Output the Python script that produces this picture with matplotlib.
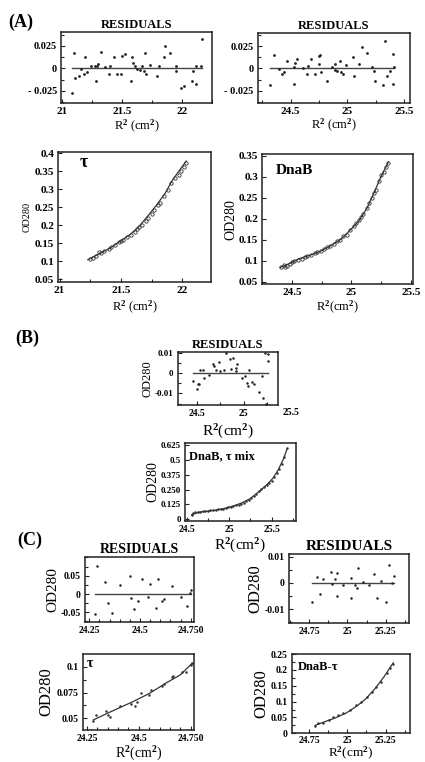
import matplotlib
matplotlib.use("Agg")
import matplotlib.pyplot as plt
import numpy as np
from matplotlib.ticker import MultipleLocator

plt.rcParams['font.family'] = ['Liberation Serif', 'DejaVu Serif']
plt.rcParams['font.weight'] = 'bold'
plt.rcParams['mathtext.fontset'] = 'custom'
plt.rcParams['mathtext.rm'] = 'Liberation Serif:bold'
plt.rcParams['mathtext.it'] = 'Liberation Serif:bold'
plt.rcParams['mathtext.bf'] = 'Liberation Serif:bold'

# ---------------- DATA ----------------
# (A) tau residuals
a_tau_res_x = [21.08, 21.10, 21.11, 21.14, 21.16, 21.18, 21.19, 21.21, 21.24, 21.27, 21.28, 21.29,
               21.30, 21.32, 21.36, 21.39, 21.40, 21.43, 21.46, 21.49, 21.50, 21.52, 21.57, 21.58,
               21.59, 21.61, 21.62, 21.65, 21.67, 21.68, 21.69, 21.70, 21.73, 21.79, 21.81, 21.85,
               21.86, 21.90, 21.95, 21.95, 21.99, 22.02, 22.08, 22.09, 22.12, 22.12, 22.16, 22.17]
a_tau_res_y = [-0.027, 0.017, -0.011, -0.0085, -0.001, -0.006, 0.012, -0.004, 0.003, 0.002, -0.014, 0.002,
               0.005, 0.018, 0.001, -0.006, 0.003, 0.012, -0.006, -0.006, 0.014, 0.016, -0.014, 0.013,
               0.006, 0.002, -0.001, -0.002, 0.003, -0.003, 0.017, -0.006, 0.004, -0.0085, 0.002, 0.013,
               0.025, 0.017, 0.003, -0.003, -0.022, -0.020, -0.014, -0.003, -0.017, 0.002, 0.003, 0.032]
# (A) DnaB residuals
a_dnab_res_x = [24.32, 24.35, 24.40, 24.42, 24.44, 24.47, 24.53, 24.53, 24.54, 24.56, 24.61, 24.64,
                24.65, 24.68, 24.71, 24.75, 24.76, 24.75, 24.77, 24.82, 24.86, 24.89, 24.89, 24.91,
                24.93, 24.94, 24.96, 24.99, 25.05, 25.06, 25.10, 25.13, 25.17, 25.22, 25.23, 25.24,
                25.31, 25.33, 25.35, 25.37, 25.40, 25.40, 25.41]
a_dnab_res_y = [-0.019, 0.015, -0.001, -0.006, -0.004, 0.008, 0.002, -0.018, 0.006, 0.011, 0.001, -0.006,
                0.003, 0.011, -0.006, 0.014, 0.015, 0.005, -0.004, -0.014, 0.002, 0.005, -0.0015, -0.0025,
                0.0085, -0.004, -0.006, 0.004, 0.013, -0.009, 0.0055, 0.024, 0.017, 0.002, -0.0025, -0.014,
                -0.019, 0.031, -0.009, -0.0025, -0.017, 0.016, 0.002]
# (A) tau sedimentation data and fit
a_tau_x = [21.25, 21.27, 21.30, 21.32, 21.34, 21.36, 21.40, 21.42, 21.45, 21.48, 21.50, 21.52, 21.55,
           21.58, 21.61, 21.63, 21.65, 21.67, 21.70, 21.72, 21.75, 21.77, 21.80, 21.82, 21.85, 21.88,
           21.91, 21.94, 21.97, 21.99, 22.01, 22.03]
a_tau_y = [0.106, 0.110, 0.115, 0.126, 0.122, 0.128, 0.134, 0.138, 0.145, 0.152, 0.157, 0.160, 0.167,
           0.173, 0.182, 0.190, 0.196, 0.200, 0.212, 0.220, 0.232, 0.242, 0.255, 0.262, 0.280, 0.298,
           0.318, 0.330, 0.340, 0.350, 0.362, 0.374]
a_tau_fit_x = [21.23, 21.33, 21.41, 21.49, 21.57, 21.64, 21.71, 21.79, 21.86, 21.92, 21.98, 22.03]
a_tau_fit_y = [0.104, 0.122, 0.136, 0.155, 0.173, 0.194, 0.222, 0.256, 0.289, 0.326, 0.354, 0.378]
# (A) DnaB sedimentation data and fit
a_dnab_x = [24.41, 24.43, 24.44, 24.46, 24.48, 24.50, 24.52, 24.55, 24.58, 24.61, 24.63, 24.66, 24.69,
            24.71, 24.74, 24.77, 24.79, 24.82, 24.85, 24.88, 24.90, 24.93, 24.96, 24.99, 25.02, 25.04,
            25.06, 25.08, 25.10, 25.13, 25.15, 25.17, 25.19, 25.21, 25.23, 25.25, 25.27, 25.29, 25.31]
a_dnab_y = [0.086, 0.090, 0.084, 0.088, 0.093, 0.097, 0.099, 0.102, 0.105, 0.108, 0.112, 0.114, 0.118,
            0.121, 0.124, 0.129, 0.132, 0.136, 0.141, 0.146, 0.150, 0.158, 0.162, 0.172, 0.182, 0.190,
            0.196, 0.205, 0.212, 0.226, 0.238, 0.250, 0.262, 0.268, 0.290, 0.303, 0.310, 0.322, 0.332]
a_dnab_fit_x = [24.40, 24.49, 24.57, 24.65, 24.74, 24.82, 24.91, 24.99, 25.06, 25.13, 25.19, 25.24, 25.28, 25.31]
a_dnab_fit_y = [0.084, 0.095, 0.106, 0.113, 0.123, 0.135, 0.151, 0.173, 0.194, 0.225, 0.262, 0.295, 0.318, 0.335]

# (B) DnaB, tau mix residuals
b_res_x = [24.46, 24.50, 24.51, 24.53, 24.54, 24.57, 24.58, 24.63, 24.67, 24.69, 24.71, 24.74, 24.75,
           24.79, 24.81, 24.85, 24.86, 24.89, 24.92, 24.93, 24.92, 24.98, 25.01, 25.03, 25.05, 25.06,
           25.09, 25.11, 25.16, 25.19, 25.20, 25.23, 25.26, 25.26, 25.24]
b_res_y = [-0.0041, -0.0079, -0.0054, -0.0054, 0.0016, 0.0016, -0.0025, -0.0008, 0.0046, 0.0033, 0.0016,
           0.0054, 0.0008, 0.0016, 0.0098, 0.0069, 0.0020, 0.0074, 0.0008, 0.0046, 0.0025, -0.0025, -0.0013,
           -0.0049, -0.0062, 0.0013, -0.0046, -0.0054, -0.0095, -0.0016, -0.0123, 0.0098, 0.0095, 0.0057, -0.0150]
b_x = [24.56, 24.58, 24.60, 24.63, 24.66, 24.69, 24.72, 24.75, 24.78, 24.81, 24.84, 24.87, 24.90, 24.93,
       24.96, 24.99, 25.02, 25.05, 25.08, 25.11, 25.14, 25.17, 25.20, 25.23, 25.26, 25.29, 25.32, 25.35,
       25.38, 25.41, 25.44, 25.47, 25.50, 25.53, 25.56, 25.59, 25.62, 25.65, 25.68]
b_y = [0.035, 0.050, 0.058, 0.062, 0.063, 0.066, 0.070, 0.072, 0.074, 0.075, 0.079, 0.084, 0.086, 0.090,
       0.095, 0.100, 0.106, 0.110, 0.118, 0.123, 0.132, 0.140, 0.152, 0.165, 0.180, 0.196, 0.215, 0.238,
       0.258, 0.272, 0.290, 0.305, 0.325, 0.355, 0.385, 0.425, 0.465, 0.520, 0.600]
b_fit_x = [24.56, 24.65, 24.75, 24.85, 24.95, 25.05, 25.15, 25.25, 25.35, 25.45, 25.52, 25.58, 25.64, 25.68]
b_fit_y = [0.040, 0.060, 0.068, 0.078, 0.092, 0.112, 0.138, 0.175, 0.232, 0.295, 0.350, 0.420, 0.510, 0.590]

# (C) tau residuals and data
c_tau_res_x = [24.28, 24.286, 24.33, 24.34, 24.36, 24.40, 24.45, 24.455, 24.47, 24.49, 24.51, 24.54,
               24.55, 24.58, 24.59, 24.61, 24.62, 24.66, 24.70, 24.73, 24.746, 24.75]
c_tau_res_y = [-0.055, 0.077, 0.032, -0.025, -0.053, 0.025, 0.050, -0.012, -0.042, -0.019, 0.040, -0.007,
               0.026, -0.038, 0.041, -0.019, -0.015, 0.022, -0.007, -0.032, 0.002, 0.010]
c_tau_x = [24.28, 24.295, 24.34, 24.35, 24.36, 24.41, 24.46, 24.48, 24.49, 24.51, 24.55, 24.56, 24.61,
           24.62, 24.66, 24.665, 24.71, 24.73, 24.75, 24.756]
c_tau_y = [0.0477, 0.053, 0.057, 0.053, 0.051, 0.062, 0.064, 0.062, 0.066, 0.075, 0.073, 0.077, 0.081,
           0.083, 0.090, 0.091, 0.095, 0.095, 0.102, 0.104]
c_tau_fit_x = [24.28, 24.36, 24.47, 24.55, 24.63, 24.70, 24.756]
c_tau_fit_y = [0.0484, 0.056, 0.066, 0.074, 0.084, 0.092, 0.103]
# (C) DnaB-tau residuals and data
c_dt_res_x = [24.77, 24.80, 24.82, 24.84, 24.89, 24.90, 24.92, 24.93, 24.93, 24.97, 25.02, 25.02, 25.05,
              25.06, 25.07, 25.10, 25.14, 25.17, 25.19, 25.22, 25.25, 25.27, 25.29, 25.30]
c_dt_res_y = [-0.0072, 0.0023, -0.0041, 0.0013, 0.0042, -0.0005, 0.0016, 0.0039, -0.0049, -0.0009, 0.0019,
              -0.0057, -0.0009, -0.0019, 0.0058, 0.0004, -0.0009, 0.0035, -0.0057, 0.0006, -0.0072, 0.0070,
              0.0000, 0.0025]
c_dt_x = [24.79, 24.81, 24.84, 24.88, 24.91, 24.94, 24.97, 25.02, 25.06, 25.09, 25.13, 25.16, 25.19,
          25.22, 25.26, 25.28, 25.30]
c_dt_y = [0.023, 0.034, 0.034, 0.042, 0.050, 0.058, 0.063, 0.074, 0.089, 0.100, 0.113, 0.131, 0.147,
          0.163, 0.189, 0.205, 0.220]
c_dt_fit_x = [24.79, 24.85, 24.92, 24.99, 25.06, 25.12, 25.18, 25.24, 25.30]
c_dt_fit_y = [0.025, 0.036, 0.048, 0.063, 0.085, 0.108, 0.140, 0.178, 0.222]

# ---------------- FIGURE ----------------
W, H = 425, 762
fig = plt.figure(figsize=(W / 100, H / 100), dpi=100)

def add_ax(l, r, t, b):
    return fig.add_axes([l / W, 1 - b / H, (r - l) / W, (b - t) / H])

FRAME = '#222222'

def style(ax, xlim, ylim, xt, xtl, yt, ytl, fsx, fsy, xminor=None, yminor=None):
    ax.set_xlim(*xlim)
    ax.set_ylim(*ylim)
    ax.set_xticks(xt)
    ax.set_xticklabels(xtl, fontsize=fsx, fontweight='bold')
    ax.set_yticks(yt)
    ax.set_yticklabels(ytl, fontsize=fsy, fontweight='bold')
    if xminor:
        ax.xaxis.set_minor_locator(MultipleLocator(xminor))
    if yminor:
        ax.yaxis.set_minor_locator(MultipleLocator(yminor))
    ax.tick_params(which='both', direction='in', top=False, right=False, color=FRAME, width=0.8)
    ax.tick_params(which='major', length=3, pad=3)
    ax.tick_params(which='minor', length=2)
    for s in ax.spines.values():
        s.set_color(FRAME)
        s.set_linewidth(1.1)

def resid(ax, x, y, ms=2.2):
    ax.plot([min(x), max(x)], [0, 0], color='#444444', lw=1.0)
    ax.plot(x, y, 'o', ms=ms, color='#222222', mec='none')

def curve(ax, x, y, fx, fy, open_marker=False, ms=2.2):
    ax.plot(fx, fy, color='#333333', lw=0.9)
    if open_marker:
        ax.plot(x, y, 'o', ms=ms, mfc='none', mec='#333333', mew=0.6)
    else:
        ax.plot(x, y, 'o', ms=ms, color='#333333', mec='none')

RL = r'R$^{2}$ (cm$^{2}$)'
RL2 = r'R$^{2}$(cm$^{2}$)'

# ---- (A) residuals tau
ax = add_ax(61, 212, 32, 103)
resid(ax, a_tau_res_x, a_tau_res_y, ms=2.0)
style(ax, (20.99, 22.25), (-0.0386, 0.0403), [21, 21.5, 22], ['21', '21.5', '22'],
      [-0.025, 0, 0.025], ['- 0.025', '0', '0.025'], 8, 7.5, xminor=0.25, yminor=0.0125)
ax.set_title('RESIDUALS', fontsize=9, fontweight='bold', pad=3)
ax.set_xlabel(RL, fontsize=9, labelpad=1)

# ---- (A) residuals DnaB
ax = add_ax(257.7, 410, 32.7, 102.7)
resid(ax, a_dnab_res_x, a_dnab_res_y, ms=2.0)
style(ax, (24.21, 25.55), (-0.0386, 0.0403), [24.5, 25, 25.5], ['24.5', '25', '25.5'],
      [-0.025, 0, 0.025], ['- 0.025', '0', '0.025'], 8, 7.5, xminor=0.25, yminor=0.0125)
ax.set_title('RESIDUALS', fontsize=9, fontweight='bold', pad=3)
ax.set_xlabel(RL, fontsize=9, labelpad=1)

# ---- (A) tau data
ax = add_ax(58.3, 210.7, 151.7, 281.7)
curve(ax, a_tau_x, a_tau_y, a_tau_fit_x, a_tau_fit_y, open_marker=True, ms=2.4)
style(ax, (20.99, 22.23), (0.043, 0.404), [21, 21.5, 22], ['21', '21.5', '22'],
      [0.05, 0.1, 0.15, 0.2, 0.25, 0.3, 0.35, 0.4],
      ['0.05', '0.1', '0.15', '0.2', '0.25', '0.3', '0.35', '0.4'], 8, 8, xminor=0.25)
ax.set_ylabel('OD280', fontsize=7.5, labelpad=2)
ax.set_xlabel(RL, fontsize=9, labelpad=3)
ax.text(0.14, 0.88, 'τ', transform=ax.transAxes, fontsize=13, fontweight='bold')

# ---- (A) DnaB data
ax = add_ax(262.3, 413.3, 154, 284.3)
curve(ax, a_dnab_x, a_dnab_y, a_dnab_fit_x, a_dnab_fit_y, open_marker=True, ms=2.4)
style(ax, (24.25, 25.52), (0.044, 0.354), [24.5, 25, 25.5], ['24.5', '25', '25.5'],
      [0.05, 0.1, 0.15, 0.2, 0.25, 0.3, 0.35],
      ['0.05', '0.1', '0.15', '0.2', '0.25', '0.3', '0.35'], 8, 8, xminor=0.25)
ax.set_ylabel('OD280', fontsize=10, labelpad=1)
ax.set_xlabel(RL2, fontsize=9, labelpad=1)
ax.text(0.09, 0.85, 'DnaB', transform=ax.transAxes, fontsize=11, fontweight='bold')

# ---- (B) residuals
ax = add_ax(177.7, 277.7, 351.7, 405)
resid(ax, b_res_x, b_res_y, ms=1.8)
style(ax, (24.3, 25.36), (-0.0157, 0.0105), [24.5, 25], ['24.5', '25'],
      [-0.01, 0, 0.01], ['-0.01', '0', '0.01'], 7, 6.5, xminor=0.25, yminor=0.005)
ax.text(25.5, -0.0171, '25.5', transform=ax.transData, fontsize=7, fontweight='bold',
        ha='center', va='top', clip_on=False)
ax.set_title('RESIDUALS', fontsize=9, fontweight='bold', pad=3)
ax.set_ylabel('OD280', fontsize=9, labelpad=1)
ax.set_xlabel(RL2, fontsize=11, labelpad=3)

# ---- (B) data
ax = add_ax(185, 296, 443.3, 520.7)
curve(ax, b_x, b_y, b_fit_x, b_fit_y, ms=1.8)
style(ax, (24.48, 25.786), (-0.012, 0.639), [24.5, 25, 25.5], ['24.5', '25', '25.5'],
      [0, 0.125, 0.25, 0.375, 0.5, 0.625], ['0', '0.125', '0.250', '0.375', '0.5', '0.625'],
      7, 6.5, xminor=0.25)
ax.set_ylabel('OD280', fontsize=10, labelpad=1)
ax.set_xlabel(RL2, fontsize=11, labelpad=2)
ax.text(0.04, 0.8, 'DnaB, τ mix', transform=ax.transAxes, fontsize=9, fontweight='bold')

# ---- (C) residuals tau
ax = add_ax(85, 194.3, 556.7, 621.7)
resid(ax, c_tau_res_x, c_tau_res_y, ms=1.8)
style(ax, (24.229, 24.768), (-0.0757, 0.102), [24.25, 24.5, 24.75], ['24.25', '24.5', '24.750'],
      [-0.05, 0, 0.05], ['-0.05', '0', '0.05'], 7, 7, xminor=0.05, yminor=0.025)
ax.set_title('RESIDUALS', fontsize=10, fontweight='bold', pad=3)
ax.set_ylabel('OD280', fontsize=11, labelpad=1)

# ---- (C) residuals DnaB-tau
ax = add_ax(289, 409, 554.3, 623.3)
resid(ax, c_dt_res_x, c_dt_res_y, ms=1.8)
style(ax, (24.62, 25.40), (-0.0154, 0.0109), [24.75, 25, 25.25], ['24.75', '25', '25.25'],
      [-0.01, 0, 0.01], ['-0.01', '0', '0.01'], 7, 7, xminor=0.125, yminor=0.005)
ax.set_title('RESIDUALS', fontsize=11, fontweight='bold', pad=3)
ax.set_ylabel('OD280', fontsize=12, labelpad=1)

# ---- (C) tau data
ax = add_ax(82.7, 194.3, 654, 730)
curve(ax, c_tau_x, c_tau_y, c_tau_fit_x, c_tau_fit_y, ms=1.8)
style(ax, (24.229, 24.768), (0.0387, 0.1123), [24.25, 24.5, 24.75], ['24.25', '24.5', '24.750'],
      [0.05, 0.075, 0.1], ['0.05', '0.075', '0.1'], 7, 7, xminor=0.05, yminor=0.0125)
ax.set_ylabel('OD280', fontsize=12, labelpad=2)
ax.set_xlabel(RL2, fontsize=10, labelpad=1)
ax.text(0.04, 0.83, 'τ', transform=ax.transAxes, fontsize=10, fontweight='bold')

# ---- (C) DnaB-tau data
ax = add_ax(291.7, 410, 654, 733.3)
curve(ax, c_dt_x, c_dt_y, c_dt_fit_x, c_dt_fit_y, ms=1.8)
style(ax, (24.637, 25.41), (0, 0.25), [24.75, 25, 25.25], ['24.75', '25', '25.25'],
      [0, 0.05, 0.1, 0.15, 0.2, 0.25], ['0', '0.05', '0.1', '0.15', '0.2', '0.25'],
      7, 7, xminor=0.125, yminor=0.025)
ax.tick_params(axis='x', which='major', pad=2)
ax.set_ylabel('OD280', fontsize=12, labelpad=1)
ax.set_xlabel(RL2, fontsize=9.5, labelpad=0)
ax.text(0.05, 0.8, 'DnaB-τ', transform=ax.transAxes, fontsize=9, fontweight='bold')

# ---- panel letters
fig.text(8 / W, 1 - 22 / H, '(A)', fontsize=13, fontweight='bold', va='center')
fig.text(15 / W, 1 - 338 / H, '(B)', fontsize=13, fontweight='bold', va='center')
fig.text(17 / W, 1 - 540 / H, '(C)', fontsize=13, fontweight='bold', va='center')

fig.savefig('out.png', dpi=100)
